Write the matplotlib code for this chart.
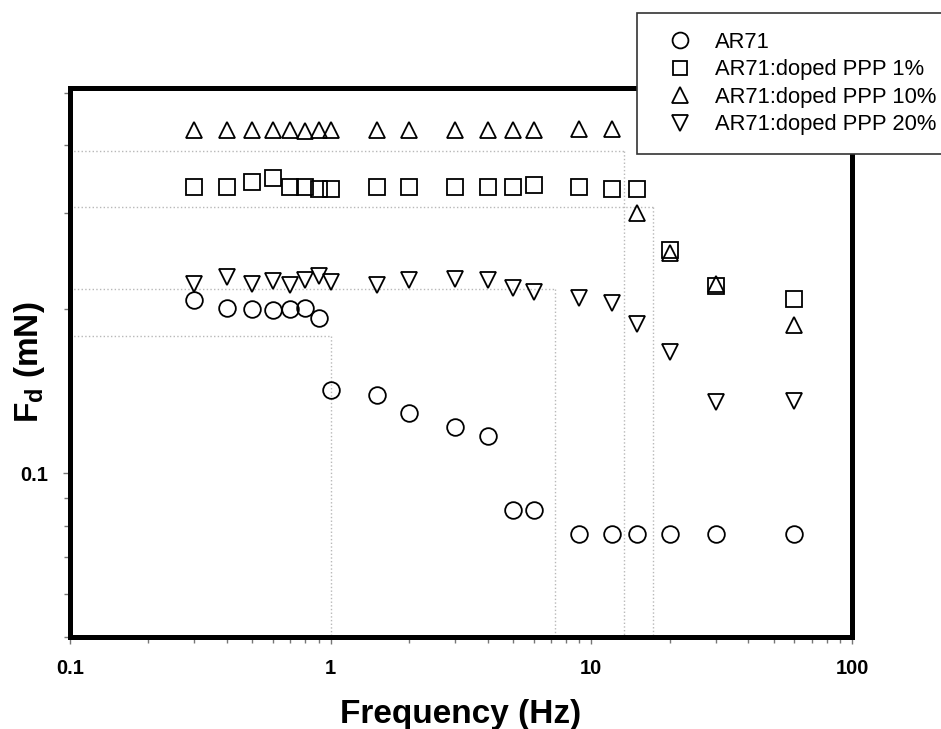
import numpy as np
import matplotlib.pyplot as plt
from matplotlib.ticker import NullFormatter

plt.rcParams['font.family'] = ['Liberation Sans', 'DejaVu Sans']
plt.rcParams['mathtext.fontset'] = 'custom'
plt.rcParams['mathtext.rm'] = 'Liberation Sans:bold'
plt.rcParams['mathtext.it'] = 'Liberation Sans:bold'
plt.rcParams['mathtext.bf'] = 'Liberation Sans:bold'

# frequency (Hz) and drag force Fd (mN)
freq = [0.3, 0.4, 0.5, 0.6, 0.7, 0.8, 0.9, 1, 1.5, 2, 3, 4, 5, 6, 9, 12, 15, 20, 30, 60]
ar71 = [0.208, 0.201, 0.200, 0.199, 0.200, 0.201, 0.193, 0.142, 0.139, 0.129,
        0.1215, 0.117, 0.0855, 0.0855, 0.0773, 0.0773, 0.0773, 0.0773, 0.0773, 0.0773]
ppp1 = [0.336, 0.335, 0.343, 0.349, 0.335, 0.335, 0.332, 0.333, 0.335, 0.335,
        0.335, 0.335, 0.335, 0.339, 0.335, 0.332, 0.332, 0.257, 0.221, 0.2085]
ppp10 = [0.427, 0.427, 0.427, 0.427, 0.427, 0.426, 0.427, 0.427, 0.427, 0.427,
         0.427, 0.427, 0.427, 0.427, 0.428, 0.428, 0.300, 0.254, 0.223, 0.187]
ppp20 = [0.223, 0.229, 0.223, 0.225, 0.222, 0.226, 0.230, 0.224, 0.222, 0.226,
         0.227, 0.226, 0.219, 0.215, 0.210, 0.205, 0.188, 0.167, 0.135, 0.1355]

labels = ['AR71', 'AR71:doped PPP 1%', 'AR71:doped PPP 10%', 'AR71:doped PPP 20%']
markers = ['o', 's', '^', 'v']
msizes = [12, 11, 12, 12]

# faint dotted drop lines (corner points)
guide_x = [1.0, 7.27, 13.3, 17.3]
guide_y = [0.179, 0.218, 0.391, 0.308]

xticks = [0.1, 1, 10, 100]
xtick_labels = ['0.1', '1', '10', '100']
yticks = [0.1]
ytick_labels = ['0.1']
yminor = [0.05, 0.06, 0.07, 0.08, 0.09, 0.2, 0.3, 0.4, 0.5]

fig = plt.figure(figsize=(9.41, 7.29), dpi=100)
ax = fig.add_axes([70 / 941, 1 - 637 / 729, 782 / 941, 549 / 729])
ax.set_xscale('log')
ax.set_yscale('log')
xmin, xmax = 0.1, 100
ymin, ymax = 0.05, 0.51

for gx, gy in zip(guide_x, guide_y):
    ax.plot([xmin, gx], [gy, gy], color='#b8b8b8', ls=':', lw=1, zorder=1)
    ax.plot([gx, gx], [gy, ymin], color='#b8b8b8', ls=':', lw=1, zorder=1)

for ys, m, ms, lab in zip([ar71, ppp1, ppp10, ppp20], markers, msizes, labels):
    ax.plot(freq, ys, ls='none', marker=m, ms=ms, mfc='none', mec='black',
            mew=1.3, label=lab, zorder=3)

ax.set_xlim(xmin, xmax)
ax.set_ylim(ymin, ymax)

ax.set_xticks(xticks)
ax.set_xticklabels(xtick_labels, fontweight='bold')
ax.xaxis.set_minor_formatter(NullFormatter())
ax.set_yticks(yticks)
ax.set_yticklabels(ytick_labels, fontweight='bold')
ax.set_yticks(yminor, minor=True)
ax.yaxis.set_minor_formatter(NullFormatter())
ax.tick_params(which='both', direction='out', color='#777777', width=1,
               length=5, labelsize=14.5, pad=11)
ax.tick_params(which='minor', length=4)

for s in ax.spines.values():
    s.set_linewidth(3.6)

ax.set_xlabel('Frequency (Hz)', fontsize=24, fontweight='bold')
ax.xaxis.set_label_coords(0.5, -0.113)
ax.set_ylabel(r'F$_\mathrm{d}$ (mN)', fontsize=24, fontweight='bold')
ax.yaxis.set_label_coords(-0.03, 0.5)

leg = ax.legend(loc='upper left', bbox_to_anchor=(637 / 941, 1 - 13 / 729),
                bbox_transform=fig.transFigure, fancybox=False, edgecolor='#333333',
                fontsize=15.8, borderpad=0.85, labelspacing=0.30, handlelength=2.2,
                handletextpad=0.5, markerscale=0.95, borderaxespad=0, numpoints=1,
                framealpha=1)
leg.get_frame().set_linewidth(1.2)

fig.savefig('out.png', dpi=100)
